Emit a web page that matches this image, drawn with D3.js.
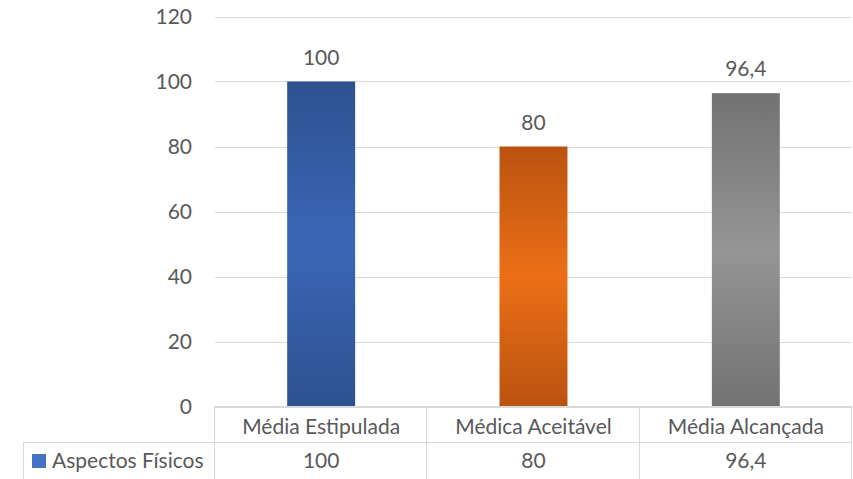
<!DOCTYPE html>
<html><head><meta charset="utf-8">
<script src="https://cdn.jsdelivr.net/npm/d3@7"></script>
<style>body{margin:0;background:#fff}svg{display:block}</style>
</head><body>
<svg id="c" width="853" height="479"></svg>
<script>
const categories = ["Média Estipulada", "Médica Aceitável", "Média Alcançada"];
const values = [100, 80, 96.4];
const valueLabels = ["100", "80", "96,4"];
const seriesName = "Aspectos Físicos";
const yTicks = [0, 20, 40, 60, 80, 100, 120];
const barColors = [
  {edge:"#2E5290", mid:"#3A66B6"},
  {edge:"#BA5310", mid:"#EC6F17"},
  {edge:"#727272", mid:"#959595"}
];

const svg = d3.select("#c");
const font = "Lato, 'Open Sans', sans-serif";
const fs = 21;
const textColor = "#595959";
const gridColor = "#D9D9D9";

const pLeft = 215, pRight = 852, pTop = 16.5, pBottom = 406.5;
const x = d3.scaleBand().domain(categories).range([pLeft, pRight]).paddingInner(0.68).paddingOuter(0.34);
const y = d3.scaleLinear().domain([0, 120]).range([pBottom, pTop]);

const defs = svg.append("defs");
barColors.forEach((c, i) => {
  const g = defs.append("linearGradient").attr("id", "g" + i).attr("x1", 0).attr("y1", 0).attr("x2", 0).attr("y2", 1);
  g.append("stop").attr("offset", "0%").attr("stop-color", c.edge);
  g.append("stop").attr("offset", "50%").attr("stop-color", c.mid);
  g.append("stop").attr("offset", "100%").attr("stop-color", c.edge);
});

// gridlines
svg.append("g").selectAll("line").data(yTicks).join("line")
  .attr("x1", pLeft).attr("x2", pRight)
  .attr("y1", d => Math.round(y(d)) + 0.5).attr("y2", d => Math.round(y(d)) + 0.5)
  .attr("stroke", gridColor).attr("stroke-width", 1);

// y axis labels
const yAxis = d3.axisLeft(y).tickValues(yTicks).tickSize(0).tickPadding(0).tickFormat(d3.format("d"));
const ya = svg.append("g").attr("transform", `translate(192,0)`).call(yAxis);
ya.select(".domain").remove();
ya.selectAll("text").attr("font-family", font).attr("font-size", fs).attr("fill", textColor);

// bars
svg.append("g").selectAll("rect").data(values).join("rect")
  .attr("x", (d, i) => x(categories[i]))
  .attr("width", x.bandwidth())
  .attr("y", d => y(d))
  .attr("height", d => y(0) - y(d))
  .attr("fill", (d, i) => `url(#g${i})`);

// data labels
svg.append("g").selectAll("text").data(values).join("text")
  .attr("x", (d, i) => x(categories[i]) + x.bandwidth() / 2)
  .attr("y", d => y(d) - 17)
  .attr("text-anchor", "middle")
  .attr("font-family", font).attr("font-size", fs).attr("fill", textColor)
  .text((d, i) => valueLabels[i]);

// data table
const rowTop = pBottom, rowMid = 442.5, rowBot = 479;
const step = (pRight - pLeft) / categories.length;
const tbl = svg.append("g");
tbl.append("line").attr("x1", pLeft).attr("x2", pRight).attr("y1", rowTop).attr("y2", rowTop).attr("stroke", gridColor);
tbl.append("line").attr("x1", 23).attr("x2", pRight).attr("y1", rowMid).attr("y2", rowMid).attr("stroke", gridColor);
const vx = d3.range(categories.length + 1).map(i => pLeft + i * step);
tbl.selectAll("line.v").data(vx).join("line").attr("class", "v")
  .attr("x1", d => Math.round(d) - 0.5).attr("x2", d => Math.round(d) - 0.5)
  .attr("y1", rowTop).attr("y2", rowBot).attr("stroke", gridColor);
tbl.append("line").attr("x1", 23.5).attr("x2", 23.5).attr("y1", rowMid).attr("y2", rowBot).attr("stroke", gridColor);

const bandC = d3.scaleBand().domain(categories).range([pLeft, pRight]);
tbl.selectAll("text.cat").data(categories).join("text").attr("class", "cat")
  .attr("x", d => bandC(d) + bandC.bandwidth() / 2).attr("y", 434)
  .attr("text-anchor", "middle").attr("font-family", font).attr("font-size", fs).attr("fill", textColor)
  .text(d => d);
tbl.selectAll("text.val").data(valueLabels).join("text").attr("class", "val")
  .attr("x", (d, i) => bandC(categories[i]) + bandC.bandwidth() / 2).attr("y", 468)
  .attr("text-anchor", "middle").attr("font-family", font).attr("font-size", fs).attr("fill", textColor)
  .text(d => d);

tbl.append("rect").attr("x", 32).attr("y", 454).attr("width", 14).attr("height", 14).attr("fill", "#4472C4");
tbl.append("text").attr("x", 52).attr("y", 468).attr("font-family", font).attr("font-size", fs).attr("fill", textColor).text(seriesName);
</script>
</body></html>
